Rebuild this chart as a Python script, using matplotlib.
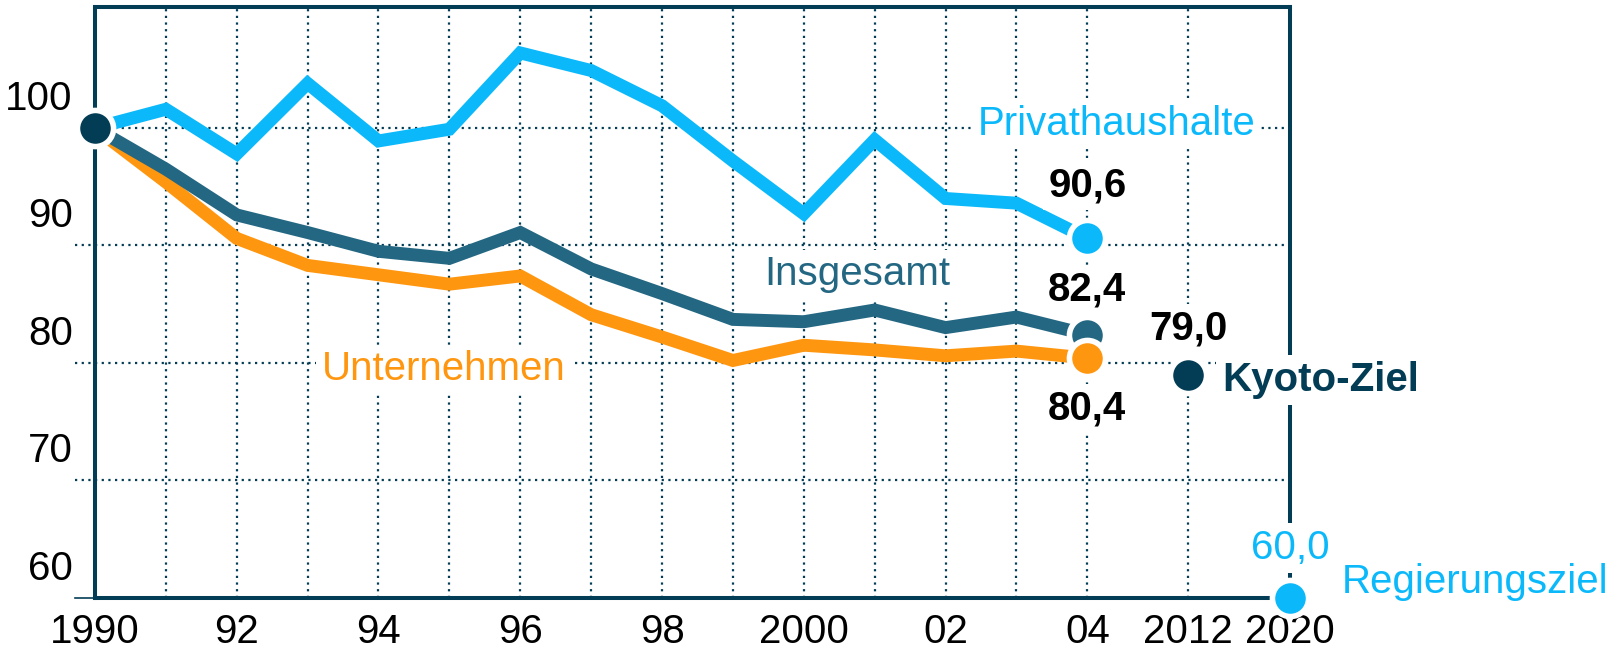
import matplotlib.pyplot as plt
from matplotlib.transforms import ScaledTranslation

plt.rcParams['font.family'] = ['Liberation Sans', 'DejaVu Sans']

# index values, 1990 = 100
years = list(range(1990, 2005))
privathaushalte = [100.0, 101.6, 97.8, 103.8, 98.9, 99.9, 106.4, 104.9, 101.9,
                   97.2, 92.7, 99.0, 94.0, 93.6, 90.6]
insgesamt = [100.0, 96.5, 92.6, 91.1, 89.5, 88.9, 91.1, 88.0, 85.9,
             83.7, 83.5, 84.5, 83.0, 83.9, 82.4]
unternehmen = [100.0, 95.4, 90.6, 88.3, 87.5, 86.7, 87.4, 84.1, 82.2,
               80.2, 81.5, 81.1, 80.6, 81.0, 80.4]
kyoto_ziel = 79.0          # 2012
regierungsziel = 60.0      # 2020

xtick_labels = ['1990', '92', '94', '96', '98', '2000', '02', '04', '2012', '2020']
ytick_values = [60, 70, 80, 90, 100]

LIGHT = '#0bb9fb'
TEAL = '#246782'
ORANGE = '#ff9610'
NAVY = '#033d55'

# x layout: one slot per year up to 2004, then the two target years
xpos = list(range(len(years)))
x_2012, x_2020 = 15.42, 16.86

fig = plt.figure(figsize=(16.15, 6.54), dpi=100)
ax = fig.add_axes([0.0588, 0.0862, 0.7400, 0.9029])
ax.set_xlim(0, x_2020)
ax.set_ylim(60, 110.3)

# dotted grid
dots = (0, (1, 2))
for yv in ytick_values[1:]:
    ax.axhline(yv, xmin=-0.017, xmax=1, color=NAVY, lw=1.6, ls=dots,
               clip_on=False, zorder=1)
ax.axhline(60, xmin=-0.017, xmax=0, color=NAVY, lw=1.2, clip_on=False, zorder=1)
for x in xpos[1:] + [x_2012]:
    ax.axvline(x, color=NAVY, lw=1.6, ls=dots, zorder=1)

# series
line_kw = dict(lw=9.3, solid_joinstyle='miter', solid_capstyle='butt', zorder=3)
ax.plot(xpos, unternehmen, color=ORANGE, **line_kw)
ax.plot(xpos, insgesamt, color=TEAL, **line_kw)
ax.plot(xpos, privathaushalte, color=LIGHT, **line_kw)

dot_kw = dict(marker='o', ms=26, mec='white', mew=4, clip_on=False)
ax.plot(xpos[-1], privathaushalte[-1], mfc=LIGHT, zorder=5, **dot_kw)
ax.plot(xpos[-1], insgesamt[-1], mfc=TEAL, zorder=5, **dot_kw)
ax.plot(xpos[-1], unternehmen[-1], mfc=ORANGE, zorder=6, **dot_kw)
ax.plot(xpos[0], insgesamt[0], mfc=NAVY, zorder=6, **dot_kw)
ax.plot(x_2012, kyoto_ziel, mfc=NAVY, zorder=6, **dot_kw)
ax.plot(x_2020, regierungsziel, mfc=LIGHT, zorder=6, **dot_kw)

# spines and ticks
for s in ax.spines.values():
    s.set_color(NAVY)
    s.set_linewidth(2.9)

ax.set_xticks(xpos[::2] + [x_2012, x_2020])
ax.set_xticklabels(xtick_labels)
ax.set_yticks(ytick_values)
ax.set_yticklabels([str(v) for v in ytick_values])
ax.tick_params(length=0, labelsize=29, labelcolor='black')
ax.tick_params(axis='x', pad=11)
ax.tick_params(axis='y', pad=16)
shift = ScaledTranslation(0, 0.18, fig.dpi_scale_trans)
for lab in ax.get_yticklabels():
    lab.set_verticalalignment('baseline')
    lab.set_transform(lab.get_transform() + shift)

# labels
box = dict(fc='white', ec='none', pad=4)
txt_kw = dict(fontsize=29, va='baseline', bbox=box, zorder=4, clip_on=False)
ax.text(12.45, 99.4, 'Privathaushalte', color=LIGHT, ha='left', **txt_kw)
ax.text(9.44, 86.6, 'Insgesamt', color=TEAL, ha='left', **txt_kw)
ax.text(3.2, 78.5, 'Unternehmen', color=ORANGE, ha='left', **txt_kw)
ax.text(15.9, 77.6, 'Kyoto-Ziel', color=NAVY, ha='left', fontweight='bold', **txt_kw)
ax.text(17.59, 60.4, 'Regierungsziel', color=LIGHT, ha='left', **txt_kw)

num_kw = dict(txt_kw, ha='center')
ax.text(xpos[-1], 94.2, f'{privathaushalte[-1]:.1f}'.replace('.', ','),
        color='black', fontweight='bold', **num_kw)
ax.text(xpos[-1], 85.3, f'{insgesamt[-1]:.1f}'.replace('.', ','),
        color='black', fontweight='bold', **num_kw)
ax.text(xpos[-1], 75.2, f'{unternehmen[-1]:.1f}'.replace('.', ','),
        color='black', fontweight='bold', **num_kw)
ax.text(x_2012, 82.0, f'{kyoto_ziel:.1f}'.replace('.', ','),
        color='black', fontweight='bold', **num_kw)
ax.text(x_2020, 63.3, f'{regierungsziel:.1f}'.replace('.', ','),
        color=LIGHT, **num_kw)

fig.savefig('out.png', dpi=100)
